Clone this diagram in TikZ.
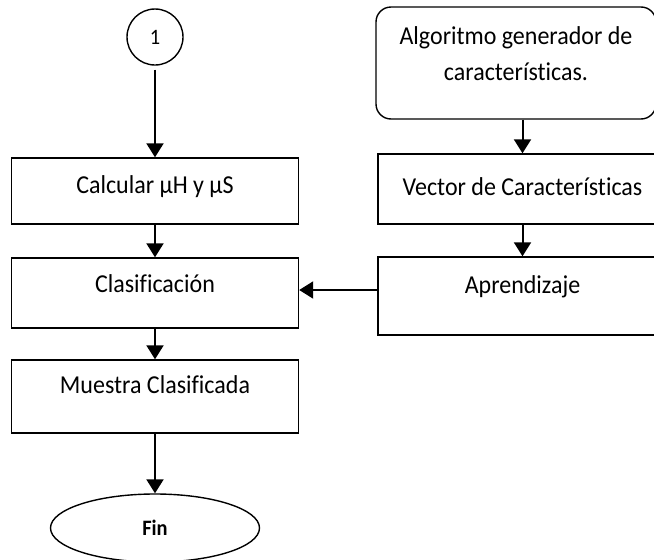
\documentclass[tikz,border=0pt]{standalone}
\usepackage{fontspec}
\setmainfont{Carlito}[FakeStretch=0.93,Ligatures=NoCommon]
\usetikzlibrary{arrows.meta,shapes.geometric}

\begin{document}
\begin{tikzpicture}[x=1pt,y=-1pt,
		caja/.style={draw, rectangle, line width=1.4pt, inner xsep=0pt, inner ysep=0pt, minimum width=287pt, font=\fontsize{25.8}{30}\selectfont},
		flecha/.style={line width=2pt, -{Triangle[length=14pt,width=17pt]}}]
		\useasboundingbox (0,0) rectangle (654,560);

		\node[draw, circle, line width=1.4pt, minimum size=56pt, inner sep=0pt, font=\fontsize{22}{24}\selectfont] (uno) at (155,37) {1};
		\node[caja, text height=35pt, text depth=31pt] (calc) at (155,191) {Calcular µH y µS};
		\node[caja, text height=34pt, text depth=36pt] (clas) at (155,293) {Clasificación};
		\node[caja, text height=33pt, text depth=40pt] (muestra) at (155,396.5) {Muestra Clasificada};
		\node[draw, ellipse, line width=1.4pt, minimum width=209pt, minimum height=68pt, font=\fontsize{22}{25}\selectfont\bfseries] (fin) at (155,528) {Fin};

		\node[caja, rounded corners=15pt, minimum width=280pt, align=center, text height=73pt, text depth=39pt, font=\fontsize{25.8}{36}\selectfont] (algo) at (516,63) {Algoritmo generador de\\características.};
		\node[caja, minimum width=289pt, text height=41pt, text depth=29pt] (vector) at (522.5,189) {Vector de Características};
		\node[caja, minimum width=289pt, text height=36pt, text depth=42pt] (apren) at (522.5,296) {Aprendizaje};

		\draw[flecha] ([yshift=-4pt]uno.south) -- (calc);
		\draw[flecha] (calc) -- (clas);
		\draw[flecha] (clas) -- (muestra);
		\draw[flecha] (muestra) -- (fin);
		\draw[flecha] (algo.south -| vector) -- (vector);
		\draw[flecha] (vector) -- (apren);
		\draw[flecha] ([yshift=3pt]clas.east -| apren.west) -- ([yshift=3pt]clas.east);
	\end{tikzpicture}
\end{document}
